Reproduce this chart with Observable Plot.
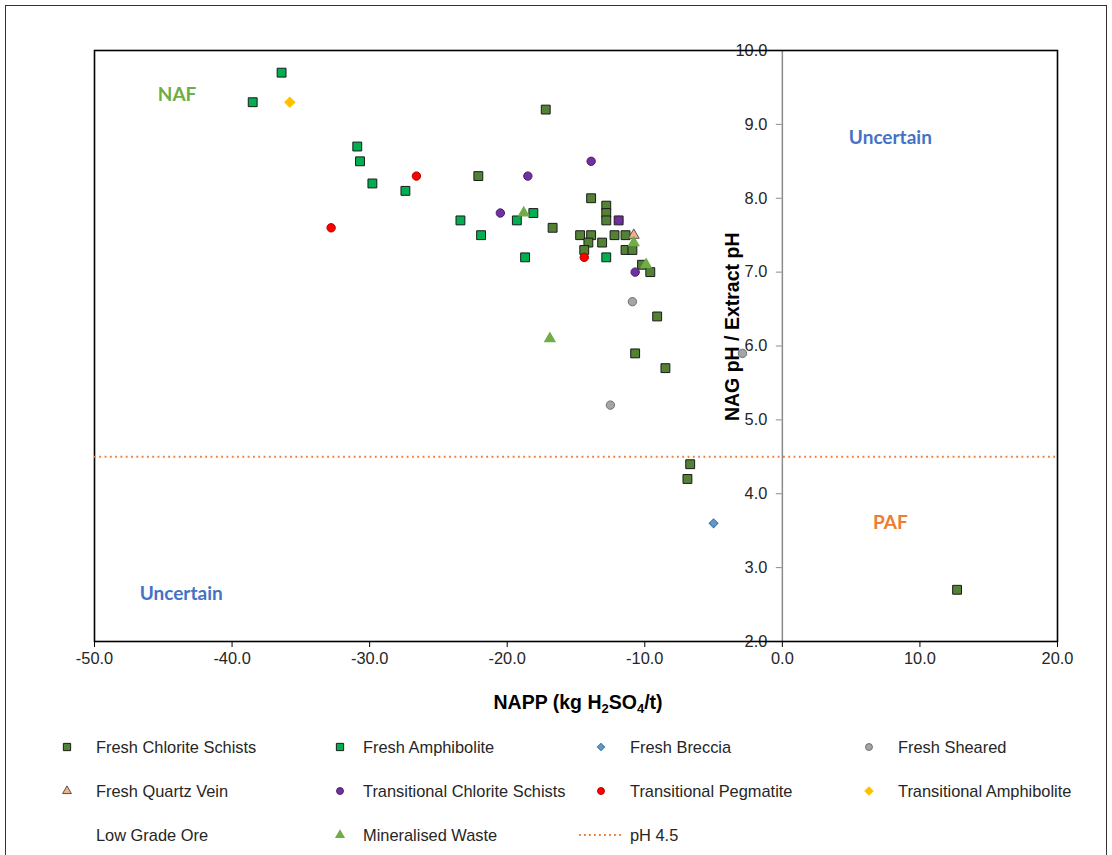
<!DOCTYPE html>
<html>
<head>
<meta charset="utf-8">
<script src="https://cdn.jsdelivr.net/npm/d3@7"></script>
<script src="https://cdn.jsdelivr.net/npm/@observablehq/plot@0.6"></script>
<style>
  html, body { margin: 0; padding: 0; background: #fff; }
  #wrap { position: relative; width: 1112px; height: 855px; overflow: hidden; background: #fff; font-family: "Liberation Sans", Arial, sans-serif; }
  #border { position: absolute; left: 5px; top: 5px; width: 1102px; height: 900px; border: 1.5px solid #333; box-sizing: border-box; pointer-events: none; }
  #chart { position: absolute; left: 0; top: 0; }
  #xtitle { position: absolute; left: 378px; width: 400px; top: 691px; text-align: center; font-weight: bold; font-size: 19.5px; color: #000; }
  #xtitle sub { font-size: 13px; vertical-align: -4px; line-height: 0; }
  .leg { position: absolute; font-size: 16.4px; color: #262626; white-space: nowrap; line-height: 20px; }
  .legm { position: absolute; }
</style>
</head>
<body>
<div id="wrap">
  <div id="chart"></div>
  <div id="xtitle">NAPP (kg H<sub>2</sub>SO<sub>4</sub>/t)</div>
  <div id="legend"></div>
  <div id="border"></div>
</div>
<script>
// ---------- data ----------
const xTicks = [-50, -40, -30, -20, -10, 0, 10, 20];
const yTicks = [2, 3, 4, 5, 6, 7, 8, 9, 10];
const phThreshold = [4.5];

const freshChloriteSchists = [
  [-22.1, 8.3], [-17.2, 9.2], [-13.9, 8.0], [-12.8, 7.9], [-12.8, 7.8], [-12.8, 7.7],
  [-11.9, 7.7], [-16.7, 7.6], [-14.7, 7.5], [-13.9, 7.5], [-14.1, 7.4], [-13.1, 7.4],
  [-14.4, 7.3], [-12.2, 7.5], [-11.4, 7.5], [-11.4, 7.3], [-10.9, 7.3], [-10.2, 7.1],
  [-9.6, 7.0], [-9.1, 6.4], [-10.7, 5.9], [-8.5, 5.7], [-6.7, 4.4], [-6.9, 4.2], [12.7, 2.7]
];
const freshAmphibolite = [
  [-38.5, 9.3], [-36.4, 9.7], [-30.9, 8.7], [-30.7, 8.5], [-29.8, 8.2], [-27.4, 8.1],
  [-23.4, 7.7], [-21.9, 7.5], [-19.3, 7.7], [-18.7, 7.2], [-18.1, 7.8], [-12.8, 7.2]
];
const freshBreccia = [[-5.0, 3.6]];
const freshSheared = [[-10.9, 6.6], [-12.5, 5.2], [-2.9, 5.9]];
const freshQuartzVein = [[-10.8, 7.5]];
const transitionalChloriteSchists = [[-18.5, 8.3], [-13.9, 8.5], [-20.5, 7.8], [-11.9, 7.7], [-10.7, 7.0]];
const transitionalPegmatite = [[-26.6, 8.3], [-32.8, 7.6], [-14.4, 7.2]];
const transitionalAmphibolite = [[-35.8, 9.3]];
const lowGradeOre = [];
const mineralisedWaste = [[-18.8, 7.8], [-10.8, 7.4], [-9.9, 7.1], [-16.9, 6.1]];

const seriesNames = [
  "Fresh Chlorite Schists", "Fresh Amphibolite", "Fresh Breccia", "Fresh Sheared",
  "Fresh Quartz Vein", "Transitional Chlorite Schists", "Transitional Pegmatite", "Transitional Amphibolite",
  "Low Grade Ore", "Mineralised Waste", "pH 4.5"
];
const seriesData = [
  freshChloriteSchists, freshAmphibolite, freshBreccia, freshSheared,
  freshQuartzVein, transitionalChloriteSchists, transitionalPegmatite, transitionalAmphibolite,
  lowGradeOre, mineralisedWaste
];

const regionLabels = ["NAF", "Uncertain", "Uncertain", "PAF"];
const regionX = [-44.0, 7.85, -43.7, 7.85];
const regionY = [9.4, 8.82, 2.65, 3.6];

const yTitle = "NAG pH / Extract pH";
const yTitleAt = 6.26;

// ---------- styles ----------
const styles = [
  {symbol: "square", fill: "#548235", stroke: "#1a1a1a", r: 5.0, rotate: 0},
  {symbol: "square", fill: "#00B050", stroke: "#1a1a1a", r: 5.0, rotate: 0},
  {symbol: "square", fill: "#5B9BD5", stroke: "#41719C", r: 3.5, rotate: 45},
  {symbol: "circle", fill: "#A5A5A5", stroke: "#6f6f6f", r: 4.2, rotate: 0},
  {symbol: "triangle", fill: "#F4B183", stroke: "#555", r: 4.0, rotate: 0},
  {symbol: "circle", fill: "#7030A0", stroke: "#4b2070", r: 4.2, rotate: 0},
  {symbol: "circle", fill: "#FF0000", stroke: "#b00000", r: 4.2, rotate: 0},
  {symbol: "square", fill: "#FFC000", stroke: "#FFC000", r: 4.0, rotate: 45},
  null,
  {symbol: "triangle", fill: "#70AD47", stroke: "none", r: 4.6, rotate: 0}
];
const regionColors = ["#70AD47", "#4472C4", "#4472C4", "#ED7D31"];

// ---------- chart ----------
const dotMarks = seriesData.map((data, i) => {
  const s = styles[i];
  if (!s || data.length === 0) return null;
  return Plot.dot(data, {
    x: d => d[0], y: d => d[1],
    symbol: s.symbol, fill: s.fill, stroke: s.stroke, r: s.r, rotate: s.rotate,
    strokeWidth: 1
  });
});

const chart = Plot.plot({
  width: 1112,
  height: 720,
  marginLeft: 94,
  marginRight: 55,
  marginTop: 50,
  marginBottom: 79,
  style: {fontFamily: "'Liberation Sans', Arial, sans-serif", fontSize: "16px", color: "#262626", background: "#fff"},
  x: {domain: [-50, 20], axis: null},
  y: {domain: [2, 10], axis: null},
  marks: [
    Plot.ruleX([0], {stroke: "#8c8c8c", strokeWidth: 1.5}),
    Plot.ruleY(yTicks, {y: d => d, x1: -0.44, x2: 0, stroke: "#8c8c8c", strokeWidth: 1}),
    Plot.text(yTicks, {x: 0, y: d => d, text: d => d.toFixed(1), textAnchor: "end", dx: -15, fontSize: 16.4, fill: "#262626"}),
    Plot.text([yTitle], {x: 0, y: yTitleAt, text: d => d, rotate: -90, dx: -50, fontSize: 19.5, fontWeight: "bold", fill: "#000"}),
    Plot.axisX({ticks: xTicks, tickFormat: d => d.toFixed(1), tickSize: 6, tickPadding: 5, fontSize: 16.4, stroke: "#000", fill: "#262626", label: null}),
    Plot.frame({stroke: "#000", strokeWidth: 1.6}),
    ...dotMarks,
    Plot.ruleY(phThreshold, {stroke: "#ED7D31", strokeWidth: 2, strokeDasharray: "1.8 3.5"}),
    Plot.text(regionLabels, {
      x: (d, i) => regionX[i], y: (d, i) => regionY[i], text: d => d,
      fill: (d, i) => regionColors[i], fontWeight: "bold", fontSize: 19, fontFamily: "Lato, 'Open Sans', sans-serif"
    })
  ]
});
document.getElementById("chart").appendChild(chart);

// ---------- legend ----------
const legCols = [{m: 67, t: 96}, {m: 340, t: 363}, {m: 601, t: 630}, {m: 869, t: 898}];
const legRows = [747, 791, 835];
const legend = document.getElementById("legend");
function markerSvg(i) {
  const s = styles[i];
  const svg = d3.create("svg").attr("width", 20).attr("height", 20).attr("viewBox", "-10 -10 20 20");
  if (i === 10) {
    svg.attr("width", 46).attr("viewBox", "-23 -10 46 20");
    svg.append("line").attr("x1", -22).attr("x2", 22).attr("y1", 0).attr("y2", 0)
      .attr("stroke", "#ED7D31").attr("stroke-width", 2).attr("stroke-dasharray", "1.8 3.2");
    return svg.node();
  }
  if (!s) return svg.node();
  const scale = 0.82;
  const type = s.symbol === "square" ? d3.symbolSquare : s.symbol === "circle" ? d3.symbolCircle : d3.symbolTriangle;
  const rr = s.r * scale;
  svg.append("path").attr("d", d3.symbol(type, Math.PI * rr * rr)())
    .attr("transform", `rotate(${s.rotate})`)
    .attr("fill", s.fill).attr("stroke", s.stroke).attr("stroke-width", 1);
  return svg.node();
}
seriesNames.forEach((name, i) => {
  const row = Math.floor(i / 4), col = i % 4;
  const cy = legRows[row];
  const c = legCols[col];
  const m = document.createElement("div");
  m.className = "legm";
  const sv = markerSvg(i);
  m.appendChild(sv);
  const w = +sv.getAttribute("width");
  m.style.left = (i === 10 ? 578 : c.m - w / 2) + "px";
  m.style.top = (cy - 10) + "px";
  legend.appendChild(m);
  const t = document.createElement("div");
  t.className = "leg";
  t.textContent = name;
  t.style.left = c.t + "px";
  t.style.top = (cy - 10) + "px";
  legend.appendChild(t);
});
</script>
</body>
</html>
